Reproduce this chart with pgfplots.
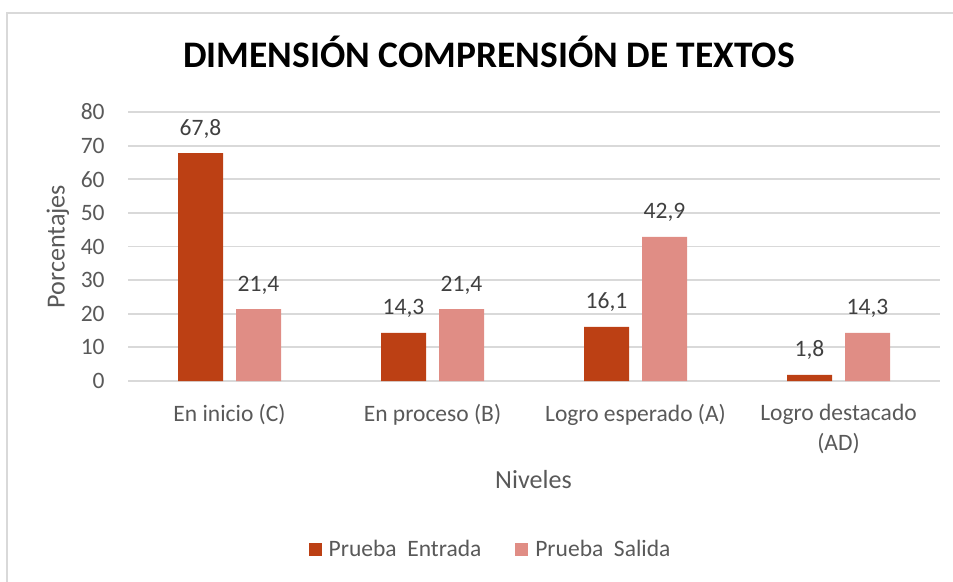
\documentclass[border=0pt]{standalone}
\usepackage{pgfplots}
\pgfplotsset{compat=1.18}
\usepackage{fontspec}
\setmainfont{Carlito}
\definecolor{entrada}{HTML}{BC4014}
\definecolor{salida}{HTML}{E08D85}
\definecolor{gridc}{HTML}{D9D9D9}
\definecolor{txt}{HTML}{595959}
\definecolor{lbl}{HTML}{404040}
\begin{document}
\begin{tikzpicture}
\path[use as bounding box] (0,0) rectangle (476.5bp,-291bp);
\draw[gridc, line width=0.9bp] (3.5bp,-320bp) -- (3.5bp,-6.5bp) -- (500bp,-6.5bp);
\node[anchor=base, font=\fontsize{18.8}{22}\selectfont\bfseries] at (244.5bp,-33.85bp) {DIMENSIÓN COMPRENSIÓN DE TEXTOS};
\node[rotate=90, font=\fontsize{13.1}{16}\selectfont, text=txt] at (29bp,-123.25bp) {Porcentajes};
\node[anchor=base, font=\fontsize{13.1}{16}\selectfont, text=txt] at (266.75bp,-244bp) {Niveles};
\begin{axis}[
  at={(64bp,-190.5bp)}, anchor=south west,
  scale only axis, width=406bp, height=134.5bp,
  clip=false,
  xmin=-0.5, xmax=3.5, ymin=0, ymax=80,
  ytick={0,10,...,80}, xtick={0,1,2,3},
  xticklabels={En inicio (C), En proceso (B), Logro esperado (A), {Logro destacado\\(AD)}},
  ymajorgrids, grid style={gridc, line width=0.9bp},
  axis line style={draw=none}, major tick length=0pt,
  /pgf/number format/assume math mode=true,
  tick label style={font=\fontsize{11.8}{15}\selectfont, text=txt, inner sep=0pt},
  yticklabel style={anchor=east, xshift=-11.5bp},
  xticklabel style={anchor=north, align=center, yshift=-11.5bp},
  ybar=6.5bp, bar width=22.5bp,
  point meta=explicit symbolic,
  nodes near coords,
  every node near coord/.append style={font=\fontsize{11.8}{15}\selectfont, text=lbl, anchor=base, inner sep=0pt, yshift=9bp},
  legend columns=2,
  legend cell align=left,
  legend image code/.code={\fill[#1] (0bp,-3.25bp) rectangle (6.5bp,3.25bp);},
  legend style={at={(0.222,-0.628)}, anchor=west, draw=none, inner sep=0pt,
    font=\fontsize{11.8}{15}\selectfont, text=txt,
    /tikz/every odd column/.append style={column sep=1.5bp},
    /tikz/every even column/.append style={column sep=15bp}},
]
\addplot[fill=entrada, draw=none] coordinates {(0,67.8) [67,8] (1,14.3) [14,3] (2,16.1) [16,1] (3,1.8) [1,8]};
\addlegendentry{Prueba\ \ Entrada}
\addplot[fill=salida, draw=none] coordinates {(0,21.4) [21,4] (1,21.4) [21,4] (2,42.9) [42,9] (3,14.3) [14,3]};
\addlegendentry{Prueba\ \ Salida}
\end{axis}
\end{tikzpicture}
\end{document}
